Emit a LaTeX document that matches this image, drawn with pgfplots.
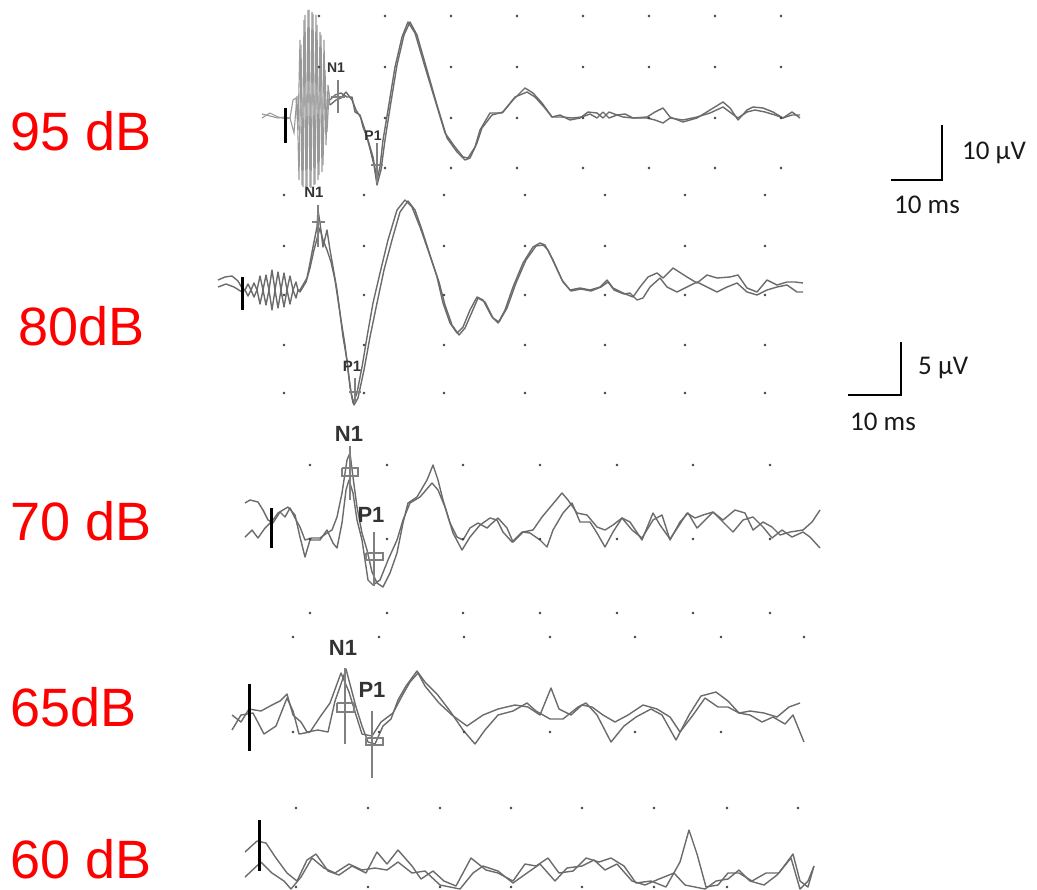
\documentclass[border=0pt]{standalone}
\usepackage{pgfplots}
\pgfplotsset{compat=1.18}
\usepackage{fontspec}
\setmainfont{Liberation Sans}
\newfontfamily\calib{Carlito}
\pgfplotsset{
 wave/.style={line width=1.4bp,color=black!58,no marks,line join=round},
 burst/.style={line width=1.1bp,color=black!40,no marks},
 cur/.style={line width=1.7bp,color=black!50,no marks},
 stim/.style={line width=3bp,color=black,no marks},
 dots/.style={only marks,mark=*,mark size=1.1bp,color=black!75},
 bar/.style={line width=2.8bp,color=black,no marks,line join=miter},
}
\begin{document}
\begin{tikzpicture}
\begin{axis}[width=1037bp,height=889bp,scale only axis,xmin=0,xmax=1037,ymin=0,ymax=889,y dir=reverse,hide axis,clip=true]
\addplot[draw=none] coordinates {(0,0)(1037,889)};
% grid dots
\addplot[dots] coordinates {
(319,16)(385,16)(451,16)(517,16)(583,16)(649,16)(715,16)(781,16)
(319,67)(385,67)(451,67)(517,67)(583,67)(649,67)(715,67)(781,67)
(385,118)(451,118)(517,118)(583,118)(649,118)(715,118)(781,118)
(385,168)(451,168)(517,168)(583,168)(649,168)(715,168)(781,168)
(284,195)(364,195)(444,195)(525,195)(605,195)(685,195)(765,195)
(284,246)(364,246)(444,246)(525,246)(605,246)(685,246)(765,246)
(284,295)(364,295)(444,295)(525,295)(605,295)(685,295)(765,295)
(284,345)(364,345)(444,345)(525,345)(605,345)(685,345)(765,345)
(284,393)(364,393)(444,393)(525,393)(605,393)(685,393)(765,393)
(310,465)(387,465)(463,465)(540,465)(617,465)(693,465)(770,465)
(310,539)(387,539)(463,539)(540,539)(617,539)(693,539)(770,539)
(310,613)(387,613)(463,613)(540,613)(617,613)(693,613)(770,613)
(293,637)(379,637)(464,637)(550,637)(635,637)(721,637)(804,637)
(293,732)(379,732)(464,732)(550,732)(635,732)(721,732)
(296,808)(368,808)(440,808)(511,808)(582,808)(654,808)(727,808)(798,808)
(296,887)(368,887)(440,887)(511,887)(582,887)(654,887)(727,887)
};
% ---------- 95 dB ----------
\addplot[burst] coordinates {(262,114)(270,116)(278,118)(284,117)(290,118)(293,100)(296,98)(298,130)(300,40)(302,185)(304,20)(306,187)(308,10)(310,187)(312,12)(314,185)(316,15)(318,180)(320,32)(322,172)(324,40)(326,145)(328,85)(330,100)};
\addplot[burst] coordinates {(262,118)(270,113)(278,117)(286,119)(290,118)(294,133)(297,96)(299,180)(301,45)(303,187)(305,15)(307,186)(309,10)(311,188)(313,14)(315,184)(317,25)(319,175)(321,35)(323,165)(325,70)(327,132)(329,95)(330,105)};
\addplot[wave] coordinates {(330,100)(335,95)(341,93)(347,97)(352,97)(355,112)(360,115)(363,127)(368,140)(373,157)(377,180)(380,167)(383,140)(388,110)(395,67)(402,37)(408,22)(415,33)(425,67)(435,100)(445,133)(455,147)(463,157)(468,158)(475,147)(480,130)(490,113)(502,113)(513,100)(525,88)(533,93)(542,103)(552,117)(560,115)(570,120)(580,118)(588,112)(597,113)(603,118)(609,112)(617,115)(623,117)(633,118)(647,117)(655,112)(663,108)(670,117)(683,122)(697,118)(710,110)(723,102)(730,108)(738,120)(747,110)(753,107)(763,108)(773,112)(783,118)(792,115)(800,115)};
\addplot[wave] coordinates {(330,105)(336,100)(341,98)(346,92)(352,100)(356,110)(361,118)(365,130)(369,145)(374,165)(377,185)(381,170)(385,140)(390,108)(397,65)(404,35)(410,22)(417,35)(427,70)(437,105)(447,138)(457,152)(465,160)(470,158)(477,143)(482,128)(492,115)(503,112)(515,97)(527,92)(535,97)(544,107)(552,117)(562,117)(572,118)(582,117)(590,114)(597,118)(603,112)(609,118)(617,115)(625,114)(633,118)(647,118)(655,120)(663,123)(670,118)(683,120)(697,117)(710,113)(723,107)(731,113)(738,118)(747,112)(755,110)(765,112)(775,115)(783,118)(792,112)(800,118)};
\addplot[stim] coordinates {(285,108)(285,143)};
\addplot[cur] coordinates {(338,80)(338,113)};
\addplot[cur] coordinates {(331,97)(345,97)};
\addplot[cur] coordinates {(377,143)(377,183)};
\addplot[cur] coordinates {(371,165)(383,165)};
% ---------- 80 dB ----------
\addplot[wave] coordinates {(218,280)(225,277)(232,276)(238,281)(242,288)(245,290)(248,284)(251,290)(254,297)(257,290)(260,276)(263,290)(266,305)(269,290)(272,270)(275,290)(278,308)(281,290)(284,273)(287,290)(290,304)(293,290)(296,282)(298,290)(300,290)(307,278)(310,263)(313,247)(317,227)(318,210)(320,223)(323,247)(327,230)(330,250)(333,267)(337,290)(340,313)(343,337)(347,360)(350,387)(353,403)(357,393)(362,367)(367,337)(373,303)(380,273)(388,240)(397,210)(405,200)(412,207)(420,227)(428,250)(437,277)(443,303)(450,323)(457,333)(463,327)(470,310)(477,297)(483,300)(492,317)(498,323)(505,310)(513,287)(523,263)(533,247)(540,243)(545,245)(553,260)(562,280)(570,290)(580,288)(590,290)(600,287)(607,280)(613,288)(623,293)(633,297)(640,287)(648,277)(657,273)(663,278)(673,268)(687,277)(697,283)(707,275)(717,278)(730,277)(738,275)(747,288)(757,292)(767,280)(777,285)(787,282)(795,282)(803,283)};
\addplot[wave] coordinates {(218,287)(226,284)(234,287)(242,292)(245,290)(248,296)(251,290)(254,283)(257,290)(260,304)(263,290)(266,275)(269,290)(272,310)(275,290)(278,272)(281,290)(284,307)(287,290)(290,276)(293,290)(296,298)(298,290)(300,292)(306,282)(310,268)(314,250)(318,235)(320,228)(323,240)(327,250)(331,262)(335,280)(338,300)(341,320)(345,345)(348,370)(351,392)(354,405)(358,398)(364,370)(370,337)(377,303)(384,270)(392,240)(400,212)(408,201)(415,210)(422,230)(430,255)(439,282)(445,305)(452,325)(459,335)(465,328)(472,312)(478,298)(485,302)(493,318)(499,322)(507,308)(516,283)(526,260)(536,246)(543,245)(548,250)(555,265)(563,282)(571,291)(581,289)(591,291)(601,287)(608,282)(614,290)(624,294)(630,293)(637,300)(643,298)(650,287)(660,278)(667,287)(677,292)(687,287)(697,282)(707,287)(717,292)(727,287)(737,283)(747,292)(757,295)(767,290)(777,287)(787,285)(797,292)(803,292)};
\addplot[stim] coordinates {(242,277)(242,310)};
\addplot[cur] coordinates {(318,205)(318,247)};
\addplot[cur] coordinates {(312,222)(325,222)};
\addplot[cur] coordinates {(355,378)(355,402)};
\addplot[cur] coordinates {(349,392)(361,392)};
% ---------- 70 dB ----------
\addplot[wave] coordinates {(245,503)(250,500)(258,502)(263,510)(268,520)(273,523)(280,512)(285,517)(290,508)(295,518)(300,527)(305,540)(312,538)(320,538)(327,533)(332,530)(337,517)(342,493)(347,460)(350,453)(353,477)(357,507)(362,533)(367,550)(372,572)(377,583)(383,587)(390,573)(397,553)(403,523)(408,503)(417,497)(427,480)(433,465)(438,480)(443,500)(450,523)(457,537)(463,540)(470,528)(478,523)(487,528)(490,525)(498,518)(507,528)(513,542)(523,532)(533,530)(542,517)(552,505)(562,493)(568,500)(577,513)(587,515)(597,527)(605,530)(613,525)(622,518)(630,522)(642,540)(653,513)(660,525)(670,539)(678,527)(687,513)(695,518)(703,515)(713,512)(723,520)(735,510)(745,513)(753,530)(763,522)(772,527)(780,535)(790,532)(803,530)(812,522)(820,510)};
\addplot[wave] coordinates {(245,537)(252,530)(258,538)(265,528)(273,520)(278,513)(288,507)(295,515)(300,537)(305,557)(310,540)(320,540)(327,530)(333,543)(337,548)(342,523)(346,490)(349,480)(353,493)(357,520)(362,540)(365,560)(368,580)(373,585)(380,580)(388,560)(397,540)(403,520)(410,503)(420,497)(432,483)(438,490)(445,507)(453,533)(462,550)(470,537)(480,525)(490,518)(497,520)(503,532)(512,542)(522,532)(530,533)(540,540)(547,547)(553,530)(563,513)(572,503)(580,522)(590,522)(597,533)(605,547)(613,532)(622,518)(632,530)(642,538)(653,520)(662,515)(670,540)(680,522)(688,513)(697,528)(705,520)(713,512)(723,522)(733,532)(743,520)(753,517)(763,527)(772,538)(782,530)(792,537)(803,532)(810,537)(820,548)};
\addplot[stim] coordinates {(271,508)(271,548)};
\addplot[cur] coordinates {(350,446)(350,500)};
\addplot[cur] coordinates {(342,468)(358,468)(358,476)(342,476)(342,468)};
\addplot[cur] coordinates {(374,532)(374,586)};
\addplot[cur] coordinates {(366,553)(383,553)(383,560)(366,560)(366,553)};
% ---------- 65 dB ----------
\addplot[wave] coordinates {(232,715)(241,722)(249,709)(261,711)(272,705)(280,701)(287,694)(293,715)(301,722)(307,732)(318,730)(328,732)(335,701)(341,684)(346,669)(351,688)(356,707)(362,726)(368,742)(375,744)(383,726)(391,719)(398,700)(406,686)(417,671)(425,682)(437,694)(450,711)(463,730)(475,744)(485,730)(498,715)(513,711)(527,703)(536,711)(550,719)(563,719)(578,707)(586,703)(597,715)(611,742)(624,726)(636,717)(651,709)(662,715)(676,740)(689,715)(701,696)(716,692)(728,701)(739,713)(750,715)(762,722)(773,717)(785,724)(793,715)(804,742)};
\addplot[wave] coordinates {(232,730)(241,715)(253,713)(264,734)(276,726)(287,698)(293,711)(299,734)(310,732)(320,717)(330,703)(341,673)(349,692)(356,715)(362,734)(372,736)(381,722)(393,713)(402,696)(410,682)(418,673)(425,686)(439,703)(452,715)(467,726)(483,715)(498,709)(515,705)(528,707)(540,715)(551,688)(559,709)(571,715)(582,705)(592,707)(603,715)(615,722)(628,715)(643,705)(657,709)(670,717)(680,732)(693,715)(705,698)(718,707)(728,707)(739,713)(750,711)(764,713)(777,717)(789,707)(800,703)};
\addplot[stim] coordinates {(249,684)(249,751)};
\addplot[cur] coordinates {(345,668)(345,744)};
\addplot[cur] coordinates {(337,703)(354,703)(354,712)(337,712)(337,703)};
\addplot[cur] coordinates {(372,711)(372,778)};
\addplot[cur] coordinates {(366,738)(383,738)(383,745)(366,745)(366,738)};
% ---------- 60 dB ----------
\addplot[wave] coordinates {(245,852)(257,841)(266,843)(276,858)(287,873)(297,881)(307,860)(316,854)(328,871)(339,875)(352,866)(366,873)(377,852)(387,864)(398,850)(412,866)(421,879)(433,871)(444,881)(456,886)(471,858)(486,870)(498,873)(513,881)(525,864)(536,866)(548,858)(559,873)(573,871)(586,858)(599,862)(611,858)(624,866)(636,883)(651,881)(666,887)(680,862)(689,830)(697,854)(706,887)(718,885)(728,873)(739,873)(752,881)(766,873)(779,873)(793,854)(800,881)(808,887)(814,866)};
\addplot[wave] coordinates {(245,877)(261,862)(272,873)(284,881)(291,889)(301,877)(312,858)(324,868)(335,873)(349,864)(362,870)(375,868)(387,870)(398,862)(412,873)(425,871)(440,885)(460,889)(473,873)(483,866)(498,871)(513,883)(527,873)(540,864)(555,881)(567,868)(582,866)(594,860)(605,870)(617,864)(632,881)(645,885)(659,879)(674,873)(685,885)(705,889)(716,881)(728,879)(739,870)(750,881)(764,885)(777,875)(791,858)(800,889)(808,881)(814,866)};
\addplot[stim] coordinates {(259,820)(259,871)};
% ---------- scale bars ----------
\addplot[bar] coordinates {(942,125)(942,180)(891,180)};
\addplot[bar] coordinates {(901,342)(901,395)(848,395)};
% ---------- texts ----------
\node[anchor=base west,inner sep=0pt,text=red,font=\fontsize{54bp}{60bp}\selectfont] at (axis cs:10,150) {95 dB};
\node[anchor=base west,inner sep=0pt,text=red,font=\fontsize{54bp}{60bp}\selectfont] at (axis cs:18,345) {80dB};
\node[anchor=base west,inner sep=0pt,text=red,font=\fontsize{54bp}{60bp}\selectfont] at (axis cs:10,540) {70 dB};
\node[anchor=base west,inner sep=0pt,text=red,font=\fontsize{54bp}{60bp}\selectfont] at (axis cs:10,726) {65dB};
\node[anchor=base west,inner sep=0pt,text=red,font=\fontsize{54bp}{60bp}\selectfont] at (axis cs:10,878) {60 dB};
\node[anchor=west,inner sep=0pt,text=black!90,font=\calib\fontsize{27bp}{30bp}\selectfont] at (axis cs:962,153) {10 µV};
\node[anchor=west,inner sep=0pt,text=black!90,font=\calib\fontsize{27bp}{30bp}\selectfont] at (axis cs:894,205) {10 ms};
\node[anchor=west,inner sep=0pt,text=black!90,font=\calib\fontsize{27bp}{30bp}\selectfont] at (axis cs:918,368) {5 µV};
\node[anchor=west,inner sep=0pt,text=black!90,font=\calib\fontsize{27bp}{30bp}\selectfont] at (axis cs:850,422) {10 ms};
\node[inner sep=0pt,text=black!80,font=\bfseries\fontsize{14bp}{16bp}\selectfont] at (axis cs:336,68) {N1};
\node[inner sep=0pt,text=black!80,font=\bfseries\fontsize{14bp}{16bp}\selectfont] at (axis cs:373,136) {P1};
\node[inner sep=0pt,text=black!80,font=\bfseries\fontsize{15bp}{17bp}\selectfont] at (axis cs:314,192) {N1};
\node[inner sep=0pt,text=black!80,font=\bfseries\fontsize{15bp}{17bp}\selectfont] at (axis cs:352,366) {P1};
\node[inner sep=0pt,text=black!80,font=\bfseries\fontsize{22bp}{24bp}\selectfont] at (axis cs:349,434) {N1};
\node[inner sep=0pt,text=black!80,font=\bfseries\fontsize{22bp}{24bp}\selectfont] at (axis cs:371,515) {P1};
\node[inner sep=0pt,text=black!80,font=\bfseries\fontsize{22bp}{24bp}\selectfont] at (axis cs:343,648) {N1};
\node[inner sep=0pt,text=black!80,font=\bfseries\fontsize{22bp}{24bp}\selectfont] at (axis cs:372,690) {P1};
\end{axis}
\end{tikzpicture}
\end{document}
